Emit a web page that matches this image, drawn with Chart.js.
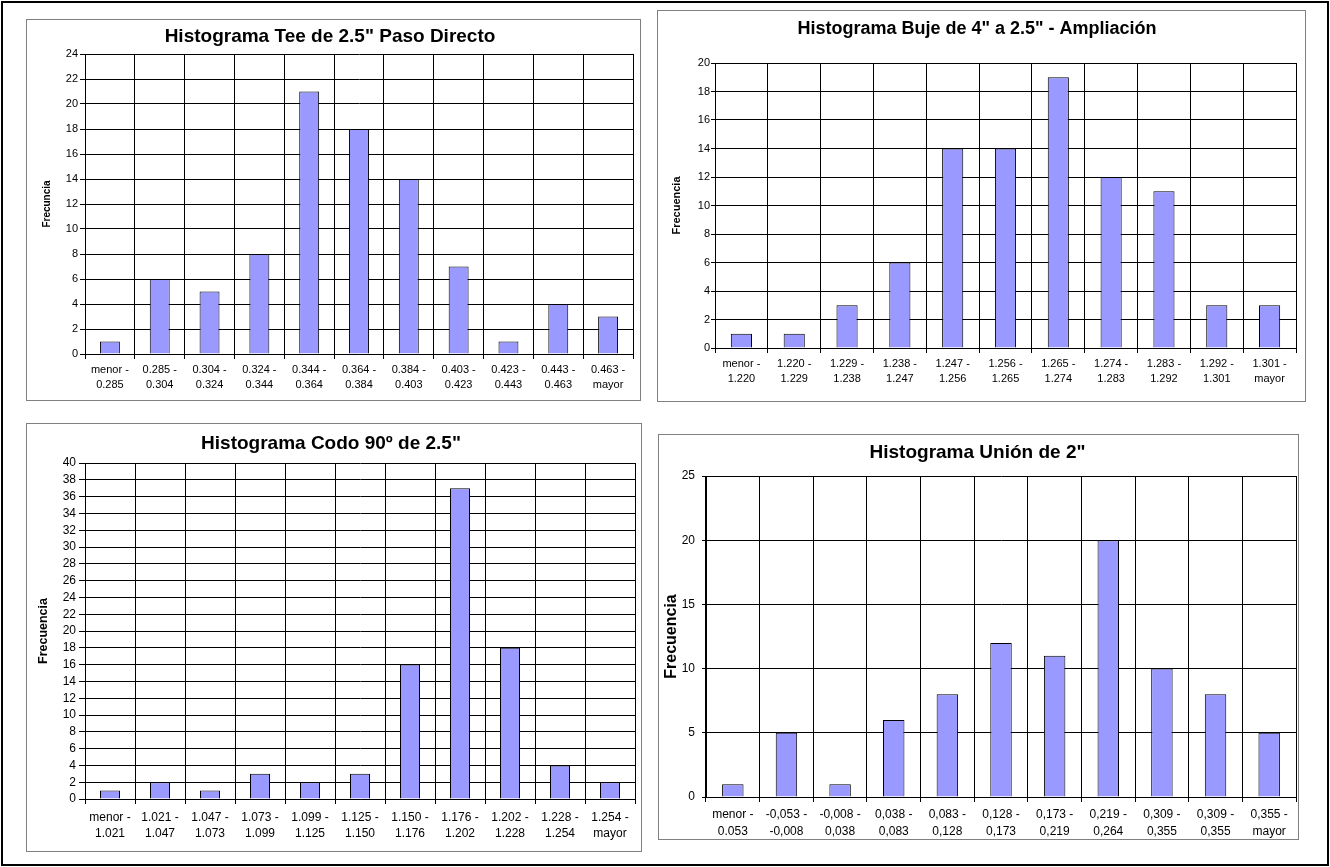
<!DOCTYPE html>
<html>
<head>
<meta charset="utf-8">
<script src="https://cdn.jsdelivr.net/npm/chart.js@4.4.0/dist/chart.umd.min.js"></script>
<style>
body { margin:0; background:#fff; width:1330px; height:867px; position:relative; overflow:hidden; }
#marco { position:absolute; left:1px; top:1px; width:1328px; height:865px; border:2px solid #000; box-sizing:border-box; }
.caja { position:absolute; border:1px solid #808080; background:#fff; }
.caja canvas { position:absolute; left:0; top:0; }
</style>
</head>
<body>
<div id="marco"></div>
<div class="caja" id="caja1"><canvas id="teeT"></canvas></div>
<div class="caja" id="caja2"><canvas id="bujeT"></canvas></div>
<div class="caja" id="caja3"><canvas id="codoT"></canvas></div>
<div class="caja" id="caja4"><canvas id="unionT"></canvas></div>
<script>
// Datos
var etiquetasTee = [
    ['menor -', '0.285'], ['0.285 -', '0.304'], ['0.304 -', '0.324'], ['0.324 -', '0.344'],
    ['0.344 -', '0.364'], ['0.364 -', '0.384'], ['0.384 -', '0.403'], ['0.403 -', '0.423'],
    ['0.423 -', '0.443'], ['0.443 -', '0.463'], ['0.463 -', 'mayor']
];
var frecuenciaTee = [1, 6, 5, 8, 21, 18, 14, 7, 1, 4, 3];

var etiquetasBuje = [
    ['menor -', '1.220'], ['1.220 -', '1.229'], ['1.229 -', '1.238'], ['1.238 -', '1.247'],
    ['1.247 -', '1.256'], ['1.256 -', '1.265'], ['1.265 -', '1.274'], ['1.274 -', '1.283'],
    ['1.283 -', '1.292'], ['1.292 -', '1.301'], ['1.301 -', 'mayor']
];
var frecuenciaBuje = [1, 1, 3, 6, 14, 14, 19, 12, 11, 3, 3];

var etiquetasCodo = [
    ['menor -', '1.021'], ['1.021 -', '1.047'], ['1.047 -', '1.073'], ['1.073 -', '1.099'],
    ['1.099 -', '1.125'], ['1.125 -', '1.150'], ['1.150 -', '1.176'], ['1.176 -', '1.202'],
    ['1.202 -', '1.228'], ['1.228 -', '1.254'], ['1.254 -', 'mayor']
];
var frecuenciaCodo = [1, 2, 1, 3, 2, 3, 16, 37, 18, 4, 2];

var etiquetasUnion = [
    ['menor -', '0.053'], ['-0,053 -', '-0,008'], ['-0,008 -', '0,038'], ['0,038 -', '0,083'],
    ['0,083 -', '0,128'], ['0,128 -', '0,173'], ['0,173 -', '0,219'], ['0,219 -', '0,264'],
    ['0,309 -', '0,355'], ['0,309 -', '0,355'], ['0,355 -', 'mayor']
];
var frecuenciaUnion = [1, 5, 1, 6, 8, 12, 11, 20, 10, 8, 5];

// escalas Y: maximo y paso
var maxTee = 24, pasoTee = 2;
var maxBuje = 20, pasoBuje = 2;
var maxCodo = 40, pasoCodo = 2;
var maxUnion = 25, pasoUnion = 5;

Chart.defaults.font.family = '"Liberation Sans", Arial, sans-serif';
Chart.defaults.color = '#000';

function histograma(idCanvas, idCaja, g, titulo, tituloY, etiquetas, valores, maxY, pasoY) {
    var caja = document.getElementById(idCaja);
    caja.style.left = g.caja[0] + 'px';
    caja.style.top = g.caja[1] + 'px';
    caja.style.width = (g.caja[2] - 2) + 'px';
    caja.style.height = (g.caja[3] - 2) + 'px';
    var cv = document.getElementById(idCanvas);
    cv.width = g.caja[2] - 2;
    cv.height = g.caja[3] - 2;
    var izq = g.caja[0] + 1, arr = g.caja[1] + 1;
    var der = g.caja[0] + g.caja[2] - 1, abj = g.caja[1] + g.caja[3] - 1;

    var lhT = g.tamTitulo * 1.2;
    var padTop = g.yTitulo - arr - lhT / 2;
    var padBottom = g.plot[2] - arr - padTop - lhT;
    var lhEje = g.tamEje * 1.2;

    return new Chart(cv.getContext('2d'), {
        type: 'bar',
        data: {
            labels: etiquetas,
            datasets: [{
                label: 'Frecuencia',
                data: valores,
                backgroundColor: '#9999FF',
                borderColor: '#000',
                borderWidth: 1,
                barPercentage: 0.4,
                categoryPercentage: 1
            }]
        },
        options: {
            responsive: false,
            animation: false,
            layout: { padding: { left: 0, top: 0, bottom: 0, right: der - g.plot[1] } },
            plugins: {
                legend: { display: false },
                tooltip: { enabled: false },
                title: {
                    display: true,
                    text: titulo,
                    color: '#000',
                    font: { size: g.tamTitulo, weight: 'bold' },
                    padding: { top: padTop, bottom: padBottom }
                }
            },
            scales: {
                x: {
                    grid: { color: '#000', lineWidth: 1, offset: true, tickLength: 5 },
                    border: { color: '#000' },
                    ticks: {
                        color: '#000',
                        maxRotation: 0,
                        autoSkip: false,
                        padding: g.padX,
                        font: { size: g.tamX, lineHeight: g.lhX / g.tamX }
                    },
                    afterFit: function (s) { s.height = abj - g.plot[3]; }
                },
                y: {
                    min: 0,
                    max: maxY,
                    grid: { color: '#000', lineWidth: 1, tickLength: g.tickY },
                    border: { color: '#000' },
                    ticks: {
                        stepSize: pasoY,
                        autoSkip: false,
                        color: '#000',
                        padding: g.padY,
                        font: { size: g.tamY }
                    },
                    title: {
                        display: true,
                        text: tituloY,
                        color: '#000',
                        font: { size: g.tamEje, weight: 'bold' },
                        padding: { top: g.xEje - izq - lhEje / 2, bottom: 0 }
                    },
                    afterFit: function (s) { s.width = g.plot[0] - izq; }
                }
            }
        }
    });
}

// geometria: caja [x, y, ancho, alto], plot [izq, der, arriba, abajo]
var teeT = histograma('teeT', 'caja1', {
    caja: [26, 19, 615, 382], plot: [85, 633, 54, 354], yTitulo: 37, tamTitulo: 19,
    xEje: 47, tamEje: 10, tamX: 11, lhX: 15, padX: 3.5, tamY: 11, tickY: 5, padY: 2
}, 'Histograma Tee de 2.5" Paso Directo', 'Frecuncia', etiquetasTee, frecuenciaTee, maxTee, pasoTee);

var bujeT = histograma('bujeT', 'caja2', {
    caja: [657, 10, 649, 392], plot: [715, 1296, 63, 348], yTitulo: 29, tamTitulo: 18,
    xEje: 677, tamEje: 11, tamX: 11, lhX: 15, padX: 3.5, tamY: 11, tickY: 4, padY: 1
}, 'Histograma Buje de 4" a 2.5" - Ampliación', 'Frecuencia', etiquetasBuje, frecuenciaBuje, maxBuje, pasoBuje);

var codoT = histograma('codoT', 'caja3', {
    caja: [26, 423, 616, 429], plot: [85, 635, 463, 799], yTitulo: 444, tamTitulo: 19,
    xEje: 44, tamEje: 12.5, tamX: 12, lhX: 16, padX: 6, tamY: 12, tickY: 6, padY: 3
}, 'Histograma Codo 90º de 2.5"', 'Frecuencia', etiquetasCodo, frecuenciaCodo, maxCodo, pasoCodo);

var unionT = histograma('unionT', 'caja4', {
    caja: [658, 434, 641, 406], plot: [706, 1296, 476, 797], yTitulo: 453, tamTitulo: 19,
    xEje: 672, tamEje: 16, tamX: 12, lhX: 17, padX: 4.5, tamY: 12, tickY: 4, padY: 7
}, 'Histograma Unión de 2"', 'Frecuencia', etiquetasUnion, frecuenciaUnion, maxUnion, pasoUnion);
</script>
</body>
</html>
